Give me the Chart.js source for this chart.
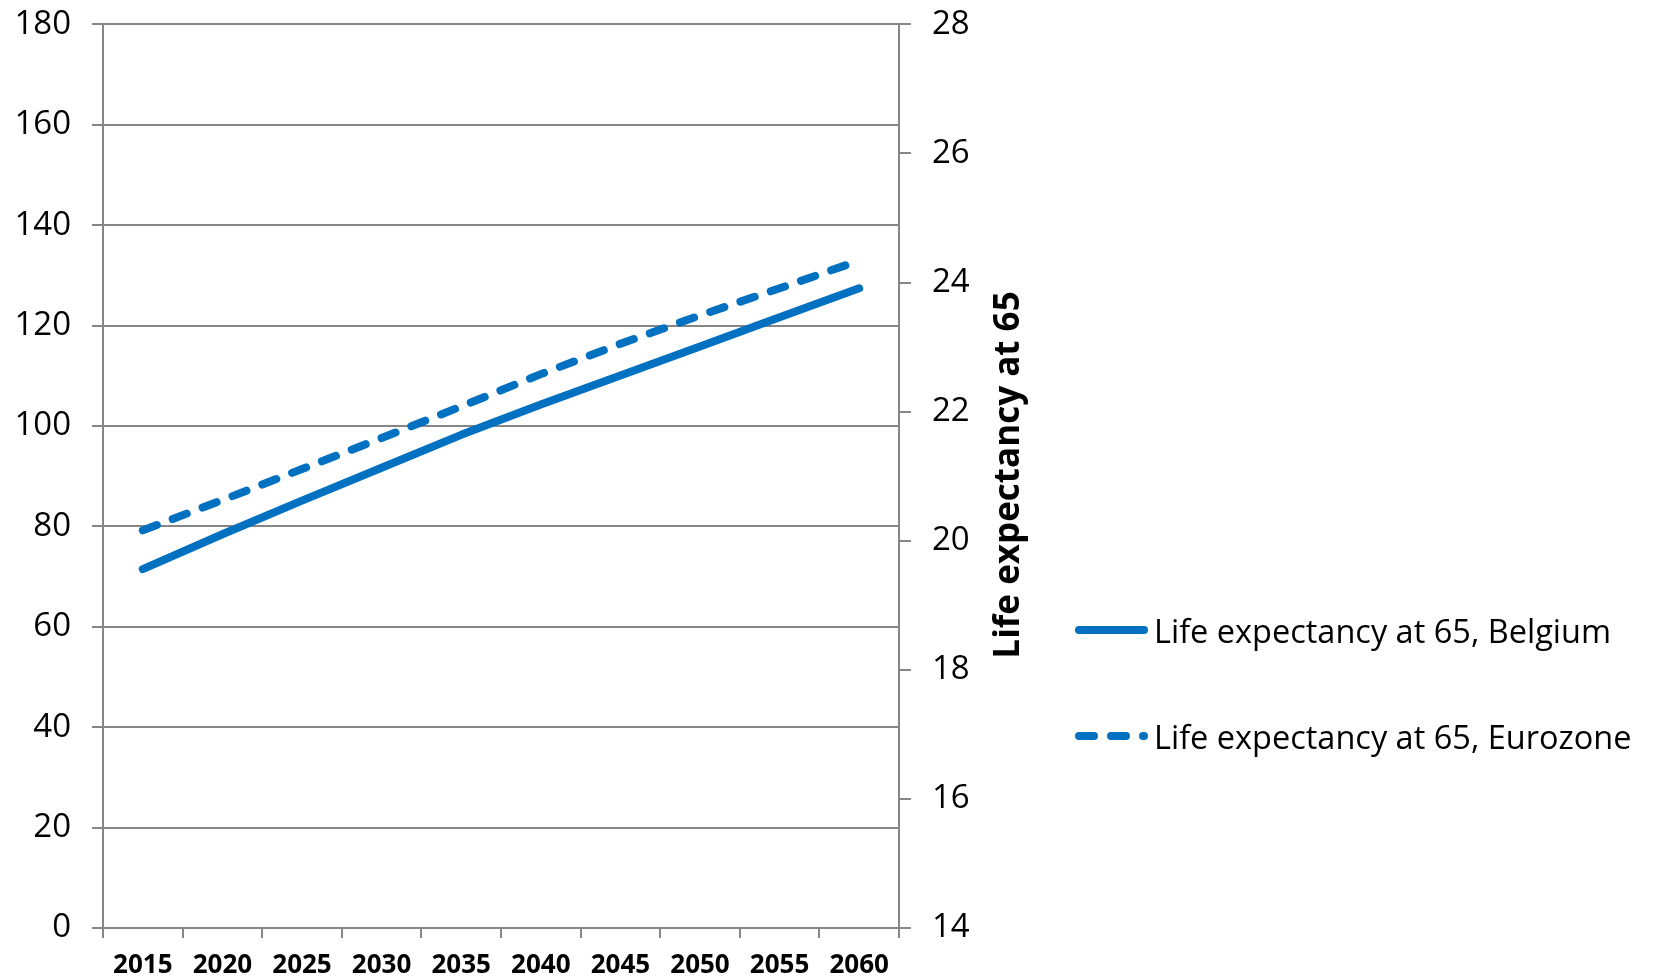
<!DOCTYPE html>
<html>
<head>
<meta charset="utf-8">
<script src="https://cdn.jsdelivr.net/npm/chart.js@4/dist/chart.umd.min.js"></script>
<style>
  html, body { margin: 0; padding: 0; background: #fff; }
  #wrap { position: relative; width: 1653px; height: 980px; }
  #legend { position: absolute; left: 1075px; top: 0; font-family: 'Open Sans', sans-serif; font-size: 32.5px; color: #000; }
  .item { position: absolute; left: 0; display: flex; align-items: center; white-space: nowrap; height: 40px; }
  .item svg { display: block; margin-right: 5px; }
</style>
</head>
<body>
<div id="wrap">
  <canvas id="chart" width="1653" height="980"></canvas>
  <div id="legend"></div>
</div>
<script>
// дані з графіка
const years = ['2015', '2020', '2025', '2030', '2035', '2040', '2045', '2050', '2055', '2060'];
const belgium = [19.56, 20.10, 20.62, 21.13, 21.64, 22.11, 22.56, 23.01, 23.46, 23.91];
const eurozone = [20.16, 20.63, 21.11, 21.59, 22.08, 22.58, 23.05, 23.49, 23.91, 24.34];
const seriesNames = ['Life expectancy at 65, Belgium', 'Life expectancy at 65, Eurozone'];
const rightTitle = 'Life expectancy at 65';

const blue = '#0070C0';
const gridGray = '#868686';
const dash = [15, 17];

Chart.defaults.font.family = "'Open Sans', sans-serif";
Chart.defaults.color = '#000';

// заголовок правої осі (знизу вгору, як в Excel)
const rightTitlePlugin = {
  id: 'rightTitle',
  afterDraw(chart) {
    const ctx = chart.ctx;
    ctx.save();
    ctx.translate(1009, 475);
    ctx.rotate(-Math.PI / 2);
    ctx.font = "bold 35px 'Open Sans', sans-serif";
    ctx.fillStyle = '#000';
    ctx.textAlign = 'center';
    ctx.textBaseline = 'middle';
    ctx.fillText(rightTitle, 0, 0);
    ctx.restore();
  }
};

new Chart(document.getElementById('chart'), {
  type: 'line',
  data: {
    labels: years,
    datasets: [
      {
        label: seriesNames[0],
        data: belgium,
        yAxisID: 'y1',
        borderColor: blue,
        borderWidth: 8,
        borderCapStyle: 'round',
        borderJoinStyle: 'round',
        pointRadius: 0,
        tension: 0
      },
      {
        label: seriesNames[1],
        data: eurozone,
        yAxisID: 'y1',
        borderColor: blue,
        borderWidth: 8,
        borderDash: dash,
        borderCapStyle: 'round',
        borderJoinStyle: 'round',
        pointRadius: 0,
        tension: 0
      }
    ]
  },
  plugins: [rightTitlePlugin],
  options: {
    responsive: false,
    animation: false,
    layout: { padding: { top: 0, right: 623, bottom: 0, left: 0 } },
    plugins: {
      legend: { display: false },
      tooltip: { enabled: false }
    },
    scales: {
      x: {
        offset: true,
        grid: { offset: true, drawOnChartArea: false, color: gridGray, tickLength: 10, lineWidth: 2 },
        border: { color: gridGray, width: 2 },
        ticks: { font: { size: 26, weight: 'bold' }, padding: 12, maxRotation: 0 },
        afterFit(scale) { scale.height = 52; }
      },
      y: {
        position: 'left',
        min: 0,
        max: 180,
        // маленький lineHeight, щоб верх області графіка був як в оригіналі
        ticks: { stepSize: 20, font: { size: 33, lineHeight: 0.2 }, padding: 21 },
        grid: { color: gridGray, lineWidth: 2, tickLength: 11 },
        border: { color: gridGray, width: 2 },
        afterFit(scale) { scale.width = 103; }
      },
      y1: {
        position: 'right',
        min: 14,
        max: 28,
        ticks: { stepSize: 2, font: { size: 33, lineHeight: 0.2 }, padding: 21 },
        grid: { drawOnChartArea: false, color: gridGray, lineWidth: 2, tickLength: 12 },
        border: { color: gridGray, width: 2 },
        afterFit(scale) { scale.width = 131; }
      }
    }
  }
});

// легенда праворуч
const legend = document.getElementById('legend');
const legendY = [610, 716];
seriesNames.forEach((name, i) => {
  const item = document.createElement('div');
  item.className = 'item';
  item.style.top = legendY[i] + 'px';
  const dashAttr = i === 1 ? ` stroke-dasharray="${dash.join(' ')}"` : '';
  item.innerHTML =
    `<svg width="74" height="12"><line x1="4" y1="6" x2="69" y2="6" stroke="${blue}" stroke-width="8" stroke-linecap="round"${dashAttr}/></svg>` +
    `<span>${name}</span>`;
  legend.appendChild(item);
});
</script>
</body>
</html>
